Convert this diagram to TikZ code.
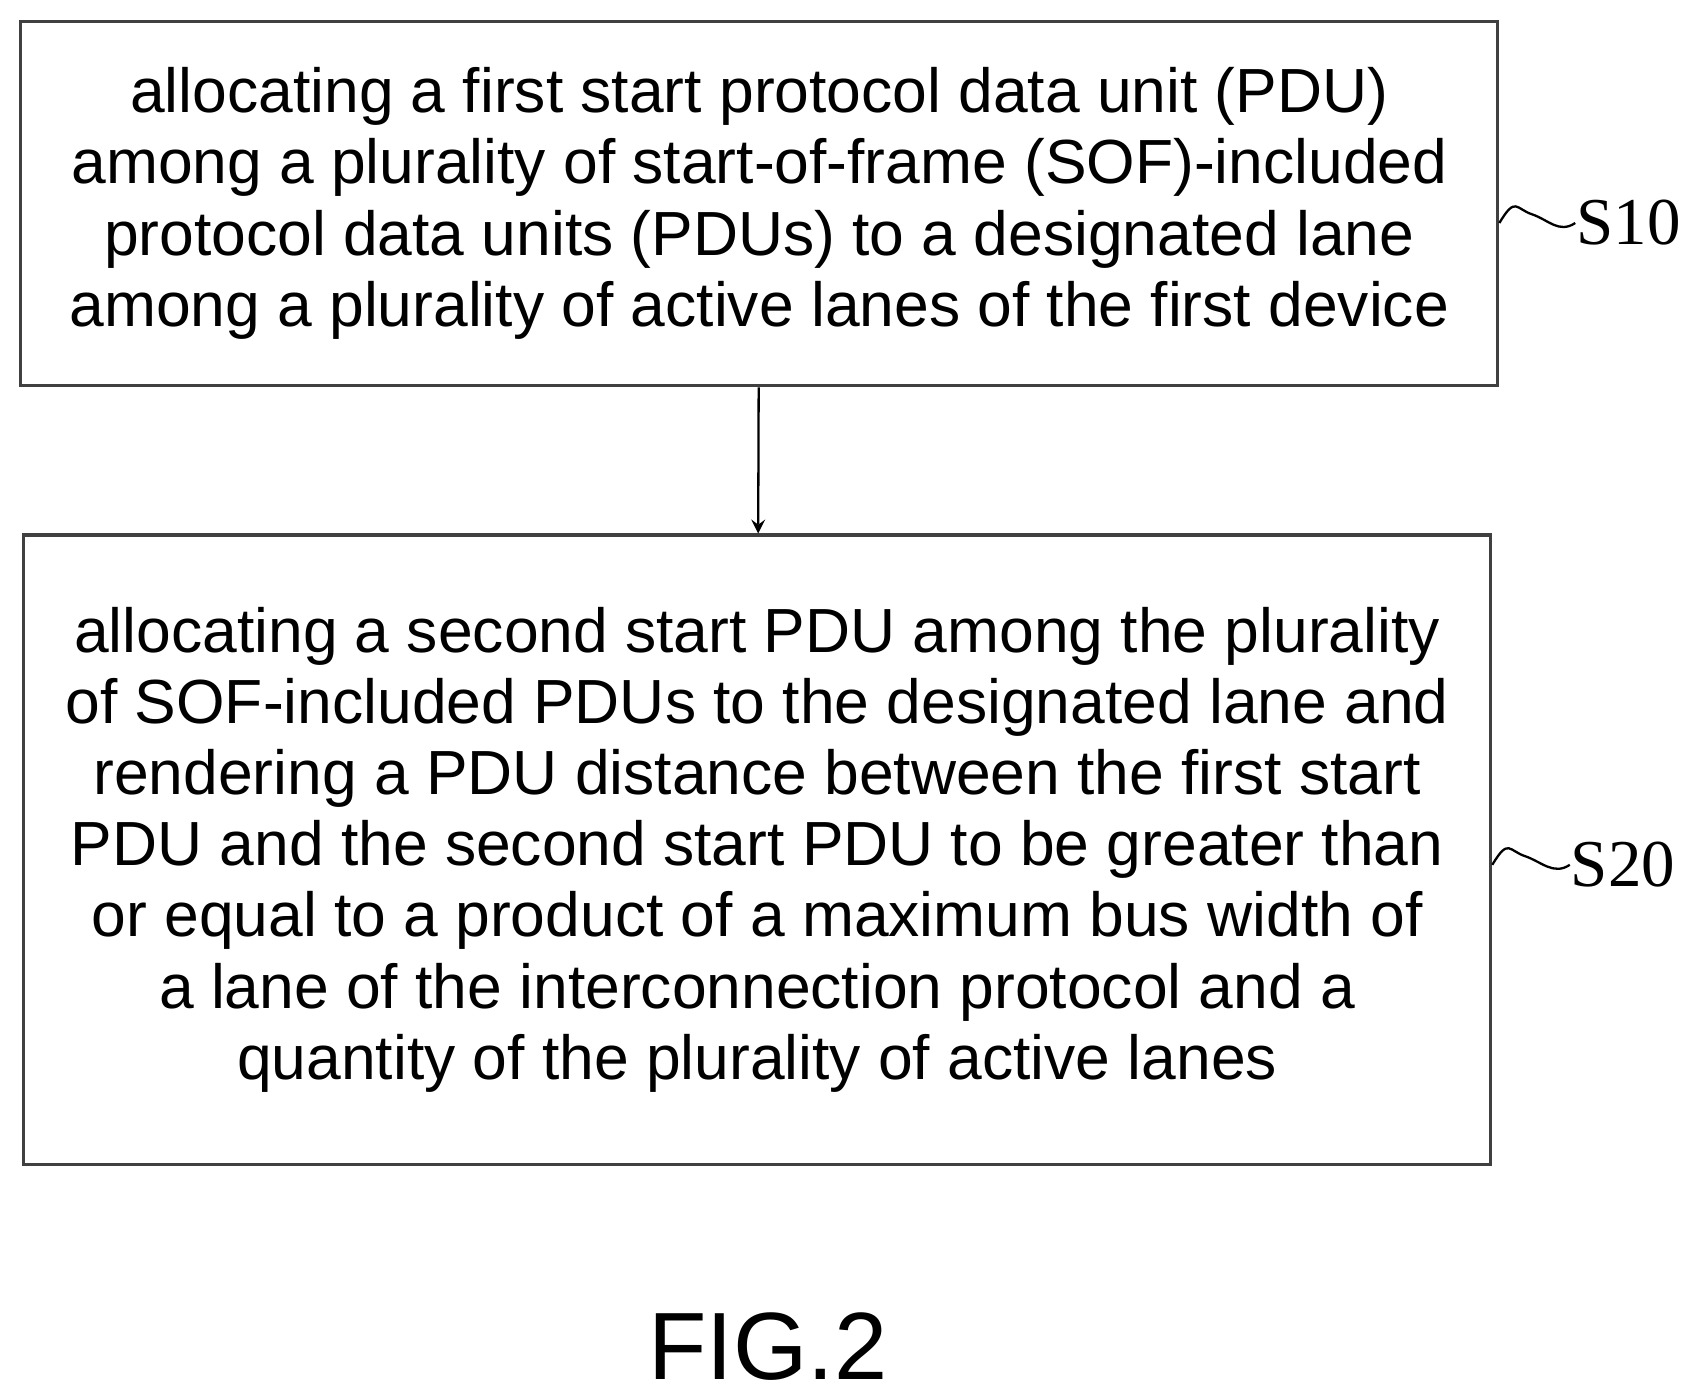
\documentclass[tikz,border=0pt]{standalone}
\usepackage{fontspec}
\setmainfont{Liberation Sans}
\newfontfamily\labelfont{Liberation Serif}
\usetikzlibrary{positioning}

\begin{document}
\begin{tikzpicture}[
            x = 0.01cm, y = -0.01cm,
            > = stealth, % arrow head style
            semithick
        ]

        \tikzset{
            flowstep/.style = {
                draw = black!75,
                thick,
                align = center,
                inner sep = 0pt,
                font = \fontsize{16.3}{18.6}\selectfont
            },
            tag/.style = {font = \labelfont\fontsize{17.5}{21}\selectfont, inner sep = 0pt}
        }

        \useasboundingbox (0,0) rectangle (1560,1282);

        \node[flowstep, minimum width = 13.57cm, minimum height = 3.35cm] (S10) at (698,187)
            {allocating a first start protocol data unit (PDU)\\
             among a plurality of start-of-frame (SOF)-included\\
             protocol data units (PDUs) to a designated lane\\
             among a plurality of active lanes of the first device};
        \node[flowstep, minimum width = 13.48cm, minimum height = 5.78cm] (S20) at (696,781)
            {allocating a second start PDU among the plurality\\
             of SOF-included PDUs to the designated lane and\\
             rendering a PDU distance between the first start\\
             PDU and the second start PDU to be greater than\\
             or equal to a product of a maximum bus width of\\
             a lane of the interconnection protocol and a\\
             quantity of the plurality of active lanes};

        \node[tag] (L10) at (1497,205) {S10};
        \node[tag] (L20) at (1492,795) {S20};
        \node[font = \fontsize{25}{30}\selectfont] (fig) at (706,1238) {FIG.2};

        \draw[->] (S10) -- (S20);

        % squiggles to the step labels
        \draw (S10.east |- L10) .. controls +(15,-25) and +(-15,-5) .. +(30,-8)
              .. controls +(15,5) and +(-15,10) .. (L10.west);
        \draw (S20.east |- L20) .. controls +(15,-25) and +(-15,-5) .. +(30,-8)
              .. controls +(15,5) and +(-15,10) .. (L20.west);

    \end{tikzpicture}
\end{document}
